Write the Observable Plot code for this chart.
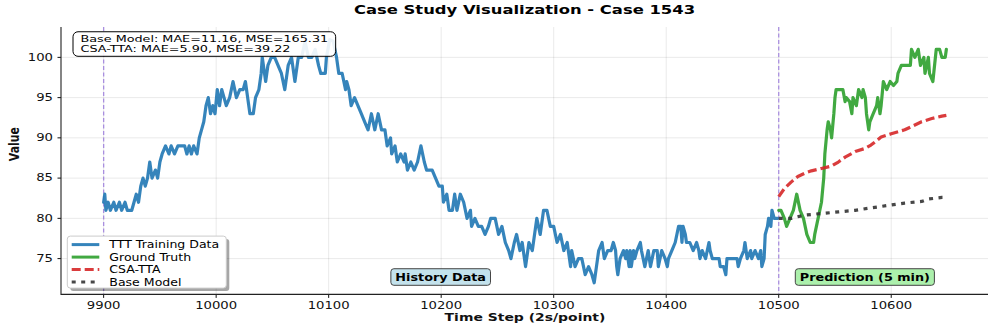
<!DOCTYPE html>
<html>
<head>
<meta charset="utf-8">
<script src="https://cdn.jsdelivr.net/npm/d3@7"></script>
<script src="https://cdn.jsdelivr.net/npm/@observablehq/plot@0.6"></script>
<style>
html,body{margin:0;padding:0;background:#fff;}
#wrap{position:relative;width:996px;height:327px;overflow:hidden;font-family:"DejaVu Sans",sans-serif;}
#title{position:absolute;left:61px;top:0;width:927px;height:20px;line-height:20px;text-align:center;font-weight:bold;font-size:12.8px;color:#000;transform:scaleX(1.28);transform-origin:50% 50%;white-space:nowrap;}
#chart{position:absolute;left:0;top:22px;}
</style>
</head>
<body>
<div id="wrap"><div id="title">Case Study Visualization - Case 1543</div><div id="chart"></div></div>
<script>
// ---- data: [time step, value] ----
const trainData = [
[9900,82],[9901,83],[9902,81],[9904,82],[9906,81],[9909,82],[9911,81],[9914,82],[9916,81],[9919,82],
[9921,81],[9925,81],[9927,82],[9929,83],[9931,82],[9933,84],[9935,85],[9937,84],[9939,85],[9941,87],
[9943,85],[9946,86],[9948,85],[9950,87],[9952,88],[9955,89],[9958,88],[9960,89],[9963,88],[9966,89],
[9972,89],[9974,88],[9976,89],[9978,88],[9980,89],[9983,88],[9985,90],[9987,91],[9989,92],[9991,94],
[9993,95],[9995,93],[9997,94],[9999,93],[10001,96],[10003,94],[10005,96],[10007,95],[10009,94],[10012,95],
[10015,97],[10018,95],[10021,96],[10024,96],[10026,97],[10028,95],[10030,93],[10033,93],[10035,95],[10038,96],
[10040,98],[10041,100],[10044,97],[10046,99],[10049,100],[10052,100],[10055,99],[10058,98],[10061,96],[10064,99],
[10067,100],[10070,97],[10073,100],[10076,100],[10079,102],[10082,100],[10085,100],[10088,101],[10091,99],[10093,98],
[10097,98],[10098,100],[10101,102.2],[10104,102],[10107,100],[10109,98],[10112,98],[10115,96],[10116,97],[10118,96],
[10120,94],[10123,95],[10126,94],[10129,93],[10132,92],[10135,91],[10138,93],[10141,91],[10144,93],[10147,91],
[10150,91],[10152,89],[10155,90],[10156,88],[10159,89],[10161,87],[10164,88],[10167,87],[10168,88],[10170,86],
[10173,87],[10176,86],[10179,87],[10182,89],[10185,87],[10187,86],[10192,86],[10195,85],[10198,84],[10201,84],
[10202,82],[10205,83],[10207,81],[10210,81],[10212,83],[10214,81],[10217,83],[10220,82],[10223,80],[10226,81],
[10227,79],[10230,80],[10233,79],[10236,79],[10239,78],[10242,79],[10244,80],[10248,80],[10251,78],[10254,79],
[10257,77],[10260,76],[10262,75],[10265,77],[10267,78],[10270,76],[10272,77],[10275,74],[10278,77],[10281,76],
[10284,79],[10285,80],[10288,78],[10291,81],[10294,81],[10297,79],[10300,79],[10303,77],[10306,78],[10309,76],
[10312,77],[10315,74],[10316,76],[10319,74],[10322,75],[10325,75],[10328,73],[10331,74],[10334,73],[10336,72],
[10339,75],[10340,76],[10343,77],[10345,75],[10348,76],[10351,76],[10353,77],[10355,76],[10356,74],[10357,73],
[10359,75],[10362,76],[10364,75],[10365,76],[10367,74],[10368,76],[10369,74],[10371,76],[10372,75],[10374,76],
[10377,77],[10378,76],[10381,74],[10384,76],[10386,74],[10389,76],[10392,76],[10393,74],[10396,76],[10399,75],
[10401,74],[10402,75],[10405,76],[10408,77],[10411,79],[10413,79],[10414,77],[10415,79],[10417,78],[10418,77],
[10421,77],[10424,76],[10427,77],[10429,76],[10430,75],[10432,76],[10435,75],[10438,77],[10439,76],[10441,75],
[10447,75],[10448,74],[10451,74],[10453,73],[10454,75],[10463,75],[10464,74],[10466,75],[10469,76],[10470,77],
[10472,75],[10475,76],[10476,75],[10479,76],[10482,75],[10484,76],[10485,74],[10487,75],[10488,78],[10490,79],
[10491,80],[10493,79],[10494,81],[10496,80],[10499,80]
];
const groundTruthData = [
[10500,81],[10502,81],[10505,80],[10507,79],[10510,80],[10513,81],[10516,83],[10519,81],[10522,80],[10525,78],
[10528,77],[10531,77],[10532,78],[10535,80],[10538,82],[10540,85],[10541,88],[10543,91],[10544,92],[10546,91],
[10547,90],[10549,93],[10550,95],[10551,96],[10554,96],[10557,96],[10559,94.5],[10560,95],[10563,94.5],[10565,93],
[10566,95],[10569,94],[10571,96],[10574,95],[10575,96],[10577,95],[10578,93],[10580,91],[10581,92],[10584,93],
[10587,94],[10588,95],[10590,93],[10591,94],[10593,97],[10596,96],[10599,97],[10602,96.5],[10605,97],[10606,98],
[10609,99],[10612,99],[10617,99],[10618,101],[10621,100],[10624,101],[10626,99],[10629,100],[10630,98],[10633,100],
[10634,98],[10637,97],[10640,101],[10643,101],[10645,100],[10648,100],[10649,101]
];
const csaTtaData = [
[10500,82.7],[10505,83.7],[10511,84.5],[10517,85.2],[10523,85.6],[10529,85.9],[10538,86.2],[10547,86.5],
[10553,87],[10559,87.6],[10568,88.3],[10577,88.7],[10582,89.1],[10591,90.1],[10600,90.5],[10612,91],
[10618,91.4],[10627,92],[10636,92.4],[10645,92.7],[10649,92.8]
];
const baseModelData = [
[10500,80],[10511,80],[10523,80.4],[10538,80.6],[10553,80.8],[10568,81],[10582,81.3],[10597,81.6],
[10612,81.9],[10627,82.1],[10633,82.4],[10645,82.6],[10649,82.6]
];
const xTicks = [9900, 10000, 10100, 10200, 10300, 10400, 10500, 10600];
const yTicks = [75, 80, 85, 90, 95, 100];
const splitSteps = [9900, 10500];
const regionLabels = ["History Data", "Prediction (5 min)"];
const regionCenters = [10200, 10577];
const legendLabels = ["TTT Training Data", "Ground Truth", "CSA-TTA", "Base Model"];
const metricLines = ["Base Model: MAE=11.16, MSE=165.31", "CSA-TTA: MAE=5.90, MSE=39.22"];

// ---- styles ----
const seriesStyles = [
  {color: "#1f77b4", opacity: 0.9, dash: null},
  {color: "#2ca02c", opacity: 0.9, dash: null},
  {color: "#d62728", opacity: 0.9, dash: "9,4"},
  {color: "#333333", opacity: 0.9, dash: "4,5.5"}
];
const regionFills = ["#c3e2ec", "#acf0ac"];
const SX = 1.28; // horizontal stretch of the reference's lettering

const rows = pairs => pairs.map(([step, value]) => ({step, value}));
const allPairs = [...trainData, ...groundTruthData, ...csaTtaData, ...baseModelData];
const [sMin, sMax] = d3.extent(allPairs, d => d[0]);
const [vMin, vMax] = d3.extent(allPairs, d => d[1]);
const xDomain = [sMin - 0.05 * (sMax - sMin), sMax + 0.05 * (sMax - sMin)];
const yDomain = [vMin - 0.05 * (vMax - vMin), vMax + 0.05 * (vMax - vMin)];

function lineMark(data, s) {
  return Plot.line(rows(data), {
    x: "step", y: "value", stroke: s.color, strokeOpacity: s.opacity, strokeWidth: 3.2,
    strokeDasharray: s.dash || undefined, strokeLinecap: s.dash ? "butt" : "round", strokeLinejoin: "round"
  });
}

function decor(index, scales, values, dims) {
  const {width, height, marginLeft: ml, marginRight: mr, marginTop: mt, marginBottom: mb} = dims;
  const fl = ml, fr = width - mr, ft = mt, fb = height - mb;
  const g = d3.create("svg:g").attr("font-family", "DejaVu Sans, sans-serif").attr("fill", "#000").attr("text-anchor", "start");
  g.append("path").attr("d", `M${fl},${ft}V${fb}H${fr}`).attr("fill", "none").attr("stroke", "#222").attr("stroke-width", 1.1);
  regionLabels.forEach((label, i) => {
    g.append("rect").attr("class", `rbox-${i}`).attr("rx", 3).attr("fill", regionFills[i]).attr("stroke", "#444").attr("stroke-width", 1);
    g.append("text").attr("class", `rlabel-${i}`)
      .attr("transform", `translate(${scales.x(regionCenters[i])},${fb - 17.4})`)
      .attr("text-anchor", "middle").attr("dy", "0.35em").attr("font-weight", "bold").attr("font-size", 10).text(label);
  });
  g.append("rect").attr("class", "mbox").attr("rx", 5).attr("fill", "#fff").attr("fill-opacity", 0.9).attr("stroke", "#000").attr("stroke-width", 1);
  metricLines.forEach((line, i) => {
    g.append("text").attr("class", "mline").attr("data-sx", 1.39)
      .attr("transform", `translate(${fl + 19.5},${ft + 11.3 + i * 10.8})`)
      .attr("text-anchor", "start").attr("dy", "0.35em").attr("font-size", 9.2).text(line);
  });
  const lw = 159, lh = 52, lx = fl + 6.3, ly = fb - 6.3 - lh;
  g.append("rect").attr("x", lx + 3).attr("y", ly + 3).attr("width", lw).attr("height", lh).attr("rx", 3).attr("fill", "#000").attr("fill-opacity", 0.35);
  g.append("rect").attr("x", lx).attr("y", ly).attr("width", lw).attr("height", lh).attr("rx", 3).attr("fill", "#fff").attr("stroke", "#ccc").attr("stroke-width", 1);
  legendLabels.forEach((label, i) => {
    const y = ly + 8.5 + i * 12.5, s = seriesStyles[i];
    g.append("line").attr("x1", lx + 4.4).attr("x2", lx + 32).attr("y1", y).attr("y2", y)
      .attr("stroke", s.color).attr("stroke-opacity", s.opacity).attr("stroke-width", 3)
      .attr("stroke-dasharray", s.dash).attr("stroke-linecap", "butt");
    g.append("text").attr("transform", `translate(${lx + 42},${y})`).attr("text-anchor", "start")
      .attr("dy", "0.35em").attr("font-size", 9.8).text(label);
  });
  return g.node();
}

const chart = Plot.plot({
  width: 996, height: 305,
  marginLeft: 61, marginRight: 8, marginTop: 5, marginBottom: 32.6,
  style: {fontFamily: "DejaVu Sans, sans-serif", fontSize: "10.3px", color: "#111", background: "#fff", overflow: "visible"},
  x: {domain: xDomain, axis: null},
  y: {domain: yDomain, axis: null},
  marks: [
    Plot.gridX(xTicks, {stroke: "#000", strokeOpacity: 0.085}),
    Plot.gridY(yTicks, {stroke: "#000", strokeOpacity: 0.085}),
    Plot.ruleX(splitSteps, {stroke: "#9370db", strokeOpacity: 0.75, strokeWidth: 1.3, strokeDasharray: "4,2.5"}),
    lineMark(trainData, seriesStyles[0]),
    lineMark(groundTruthData, seriesStyles[1]),
    lineMark(csaTtaData, seriesStyles[2]),
    lineMark(baseModelData, seriesStyles[3]),
    Plot.axisX(xTicks, {anchor: "bottom", tickSize: 3.5, tickPadding: 3, tickFormat: d => String(d), label: null, color: "#111"}),
    Plot.axisY(yTicks, {anchor: "left", tickSize: 3.5, tickPadding: 5, tickFormat: d => String(d), label: null, color: "#111"}),
    Plot.text(["Value"], {text: d => d, frameAnchor: "left", rotate: -90, dx: -47, fontWeight: "bold", fontSize: 10.9}),
    Plot.text(["Time Step (2s/point)"], {text: d => d, frameAnchor: "bottom", lineAnchor: "middle", dy: 22.5, fontWeight: "bold", fontSize: 10.9}),
    decor
  ]
});
document.getElementById("chart").append(chart);

// stretch lettering horizontally like the reference
chart.querySelectorAll("text").forEach(t => {
  const sx = t.getAttribute("data-sx") || SX;
  const tr = t.getAttribute("transform") || "";
  if (/rotate/.test(tr)) t.setAttribute("transform", tr.replace(/rotate/, `scale(${sx},1) rotate`));
  else t.setAttribute("transform", (tr + ` scale(${sx},1)`).trim());
});

// fit boxes around their texts
const base = chart.getBoundingClientRect();
function fit(rect, texts, px, py) {
  let x0 = Infinity, y0 = Infinity, x1 = -Infinity, y1 = -Infinity;
  texts.forEach(t => {
    const r = t.getBoundingClientRect();
    x0 = Math.min(x0, r.left); y0 = Math.min(y0, r.top); x1 = Math.max(x1, r.right); y1 = Math.max(y1, r.bottom);
  });
  rect.setAttribute("x", x0 - base.left - px);
  rect.setAttribute("y", y0 - base.top - py);
  rect.setAttribute("width", x1 - x0 + 2 * px);
  rect.setAttribute("height", y1 - y0 + 2 * py);
}
regionLabels.forEach((_, i) => fit(chart.querySelector(`.rbox-${i}`), [chart.querySelector(`.rlabel-${i}`)], 4.5, 2.2));
fit(chart.querySelector(".mbox"), [...chart.querySelectorAll(".mline")], 7.5, 1.5);
</script>
</body>
</html>
